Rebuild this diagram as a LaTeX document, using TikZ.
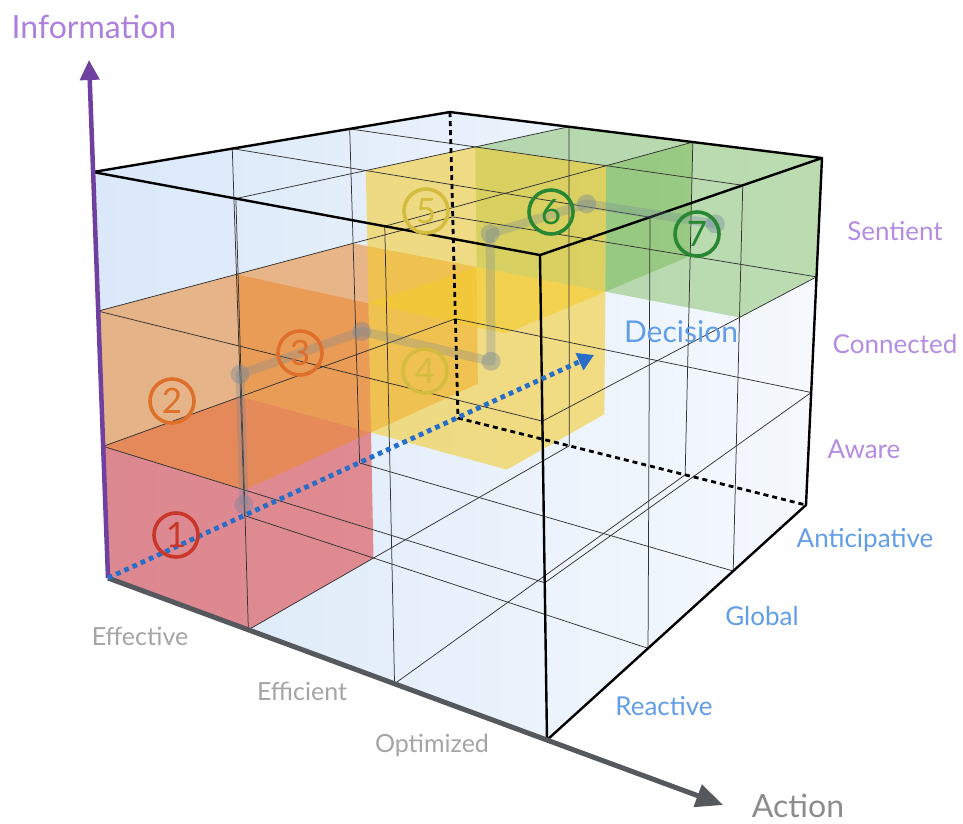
\documentclass[tikz,border=0pt]{standalone}
\usepackage{fontspec}
\setmainfont{Lato}
\usetikzlibrary{calc,arrows.meta}
\definecolor{infopurple}{RGB}{172,128,220}
\definecolor{lvlpurple}{RGB}{180,140,226}
\definecolor{axpurple}{RGB}{112,64,160}
\definecolor{decblue}{RGB}{98,158,232}
\definecolor{dotblue}{RGB}{40,110,200}
\definecolor{actgray}{RGB}{140,140,140}
\definecolor{lblgray}{RGB}{165,165,165}
\definecolor{axgray}{RGB}{85,88,92}
\definecolor{bgblue}{RGB}{218,232,249}
\definecolor{cred}{RGB}{222,78,82}
\definecolor{corange}{RGB}{236,138,48}
\definecolor{cyellow}{RGB}{245,203,40}
\definecolor{cgreen}{RGB}{110,180,70}
\definecolor{pathgray}{RGB}{110,132,155}
\definecolor{nred}{RGB}{200,55,40}
\definecolor{norange}{RGB}{222,112,44}
\definecolor{nyellow}{RGB}{212,188,62}
\definecolor{ngreen}{RGB}{40,135,50}
\def\kA{0.94}\def\kD{1.28}\def\kI{0.96}
\newcommand{\mkpt}[4]{%
 \pgfmathsetmacro\cfa{(#1/3)*\kA/(1+(#1/3)*(\kA-1))}%
 \pgfmathsetmacro\cfd{(#2/3)*\kD/(1+(#2/3)*(\kD-1))}%
 \pgfmathsetmacro\cfi{(#3/3)*\kI/(1+(#3/3)*(\kI-1))}%
 \coordinate (mb0) at ($(O)!\cfa!(FBR)$);%
 \coordinate (mb1) at ($(BBL)!\cfa!(BBR)$);%
 \coordinate (mt0) at ($(FTL)!\cfa!(FTR)$);%
 \coordinate (mt1) at ($(BTL)!\cfa!(BTR)$);%
 \coordinate (mb) at ($(mb0)!\cfd!(mb1)$);%
 \coordinate (mt) at ($(mt0)!\cfd!(mt1)$);%
 \coordinate (#4) at ($(mb)!\cfi!(mt)$);%
}
\newcommand{\cellhull}[4]{%
 \pgfmathtruncatemacro\ha{#1+1}\pgfmathtruncatemacro\hd{#2+1}\pgfmathtruncatemacro\hi{#3+1}%
 \fill[#4] (p#1#2#3) -- (p\ha#2#3) -- (p\ha\hd#3) -- (p\ha\hd\hi) -- (p#1\hd\hi) -- (p#1#2\hi) -- cycle;}
\tikzset{
 gridl/.style={line width=0.75pt, black!80},
 edge/.style={line width=2.4pt, black, line join=round},
 hidden/.style={line width=2.8pt, black, dash pattern=on 5pt off 4pt},
 lvl/.style={font=\fontsize{26}{30}\selectfont, text=lvlpurple},
 dec/.style={font=\fontsize{26}{30}\selectfont, text=decblue},
 act/.style={font=\fontsize{25}{30}\selectfont, text=lblgray},
 num/.style={circle, draw, line width=3.6pt, minimum size=44pt, inner sep=0pt, font=\fontsize{35}{35}\selectfont},
 pdot/.style={circle, fill=pathgray, fill opacity=0.38, minimum size=19pt, inner sep=0pt},
}
\begin{document}
\begin{tikzpicture}[x=1pt,y=-1pt]
\useasboundingbox (0,0) rectangle (963,823);
\fill[white] (0,0) rectangle (963,823);
% cube corners
\coordinate (O) at (108,578);
\coordinate (FBR) at (547,740);
\coordinate (BBL) at (458,418);
\coordinate (BBR) at (806,505);
\coordinate (FTL) at (93,172);
\coordinate (FTR) at (540,255);
\coordinate (BTL) at (450,112);
\coordinate (BTR) at (822,158);
% grid points
\foreach \ua in {0,...,3}{\foreach \ud in {0,...,3}{\foreach \ui in {0,...,3}{\mkpt{\ua}{\ud}{\ui}{p\ua\ud\ui}}}}
% cell centres
\mkpt{0.5}{0.5}{0.5}{c1}
\mkpt{0.5}{0.5}{1.5}{c2}
\mkpt{0.5}{1.5}{1.5}{c3}
\mkpt{1.5}{1.5}{1.5}{c4}
\mkpt{1.5}{1.5}{2.5}{c5}
\mkpt{1.5}{2.5}{2.5}{c6}
\mkpt{2.5}{2.5}{2.5}{c7}
% background of the cube
\shade[left color=bgblue, right color=white!75!bgblue] (p000) -- (p003) -- (p033) -- (p333) -- (p330) -- (p300) -- cycle;
% coloured cells
\cellhull{0}{0}{0}{cred, fill opacity=0.62}
\cellhull{0}{0}{1}{corange, fill opacity=0.56}
\cellhull{0}{1}{1}{corange, fill opacity=0.56}
\cellhull{1}{2}{2}{cgreen, fill opacity=0.42}
\cellhull{2}{2}{2}{cgreen, fill opacity=0.42}
\cellhull{1}{1}{1}{cyellow, fill opacity=0.57}
\cellhull{1}{1}{2}{cyellow, fill opacity=0.57}
% grid lines
\foreach \k in {1,2}{
 \draw[gridl] (p\k00) -- (p\k03);
 \draw[gridl] (p00\k) -- (p30\k);
 \draw[gridl] (p\k30) -- (p\k33);
 \draw[gridl] (p03\k) -- (p33\k);
 \draw[gridl] (p0\k0) -- (p0\k3);
 \draw[gridl] (p00\k) -- (p03\k);
 \draw[gridl] (p3\k0) -- (p3\k3);
 \draw[gridl] (p30\k) -- (p33\k);
 \draw[gridl] (p\k00) -- (p\k30);
 \draw[gridl] (p0\k0) -- (p3\k0);
 \draw[gridl] (p\k03) -- (p\k33);
 \draw[gridl] (p0\k3) -- (p3\k3);
}
% cube edges
\draw[hidden] (p033) -- (p030) -- (p330);
\draw[edge] (p003) -- (p033) -- (p333) -- (p303) -- cycle;
\draw[edge] (p303) -- (p300) -- (p330) -- (p333);
% path through the cells
\draw[pathgray, line width=9pt, opacity=0.28, line join=round] (c1) -- (c2) -- (c3) -- (c4) -- (c5) -- (c6) -- (c7);
\foreach \c in {c1,c2,c3,c4,c5,c6,c7}{\node[pdot] at (\c) {};}
% axes
\coordinate (tipI) at (89,60);
\coordinate (tipA) at (723,805);
\coordinate (tipD) at (594,355);
\draw[axpurple, line width=4.5pt, -{Triangle[length=20pt,width=19pt]}] (O) -- (tipI);
\draw[axgray, line width=5pt, -{Triangle[length=27pt,width=23pt]}] (O) -- (tipA);
\draw[dotblue, line width=4.8pt, dash pattern=on 4.8pt off 4.2pt, -{Triangle[length=16pt,width=18pt]}] (O) -- (tipD);
% circled numbers
\node[num, draw=nred, text=nred] (n1) at (176,535) {1};
\node[num, draw=norange, text=norange] (n2) at (172,401) {2};
\node[num, draw=norange, text=norange] (n3) at (300,353) {3};
\node[num, draw=nyellow, text=nyellow] (n4) at (425,371) {4};
\node[num, draw=nyellow, text=nyellow] (n5) at (426,211) {5};
\node[num, draw=ngreen, text=ngreen] (n6) at (551,212) {6};
\node[num, draw=ngreen, text=ngreen] (n7) at (697,234) {7};
% labels
\node[font=\fontsize{32}{36}\selectfont, text=infopurple] (linfo) at (94,27) {Information};
\node[font=\fontsize{32}{36}\selectfont, text=actgray] (lact) at (798,806) {Action};
\node[font=\fontsize{30}{34}\selectfont, text=decblue] (ldec) at (681,332) {Decision};
\node[lvl] (lsen) at (895,231) {Sentient};
\node[lvl] (lcon) at (895,344) {Connected};
\node[lvl] (lawa) at (864,449) {Aware};
\node[dec] (lant) at (865,540) {Anticipative};
\node[dec] (lglo) at (762,616) {Global};
\node[dec] (lrea) at (664,706) {Reactive};
\node[act] (leff) at (140,636) {Effective};
\node[act] (lefi) at (302,691) {Efficient};
\node[act] (lopt) at (432,745) {Optimized};
\end{tikzpicture}
\end{document}
